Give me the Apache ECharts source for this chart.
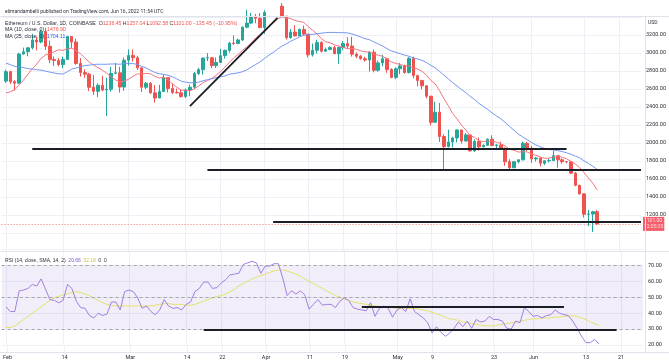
<!DOCTYPE html>
<html><head><meta charset="utf-8">
<script src="https://cdn.jsdelivr.net/npm/echarts@6/dist/echarts.min.js"></script>
<style>html,body{margin:0;padding:0;background:#fff}#c{width:669px;height:363px}</style>
</head><body><div id="c"></div>
<script>
// ETH/USD daily, 2022-02-01 .. 2022-06-16
const firstDay = '2022-02-01';
const opens = [2688,2792,2681,2665,2989,3014,3057,3144,3123,3240,
3074,2927,2916,2871,2928,3183,3122,2884,2782,2765,
2620,2574,2641,2589,2598,2774,2780,2622,2920,2973,
2947,2835,2620,2664,2557,2500,2573,2726,2606,2560,
2558,2516,2590,2620,2772,2815,2944,2947,2861,2895,
2970,3030,3110,3105,3145,3287,3332,3400,3385,3282,
3449,3445,3522,3520,3410,3170,3233,3190,3262,3210,
2980,3030,3118,3020,3040,3060,2992,3060,3105,3077,
2987,2964,2936,2922,3008,2808,2890,2936,2817,2729,
2825,2856,2784,2940,2749,2695,2635,2519,2230,2342,
2072,1960,2011,2056,2145,2022,2090,1912,2018,1958,
1974,2043,1972,1978,1942,1792,1725,1792,1813,1997,
1942,1823,1833,1775,1803,1805,1859,1813,1793,1790,
1665,1530,1435,1208,1210,1236.45];
const closes = [2792,2681,2665,2989,3014,3057,3144,3123,3240,3074,
2927,2916,2871,2928,3183,3122,2884,2782,2765,2620,
2574,2641,2589,2598,2774,2780,2622,2920,2973,2947,
2835,2620,2664,2557,2500,2573,2726,2606,2560,2558,
2516,2590,2620,2772,2815,2944,2947,2861,2895,2970,
3030,3110,3105,3145,3287,3332,3400,3385,3282,3449,
3445,3522,3520,3410,3170,3233,3190,3262,3210,2980,
3030,3118,3020,3040,3060,2992,3060,3105,3077,2987,
2964,2936,2922,3008,2808,2890,2936,2817,2729,2825,
2856,2784,2940,2749,2695,2635,2519,2230,2342,2072,
1960,2011,2056,2145,2022,2090,1912,2018,1958,1974,
2043,1972,1978,1942,1792,1725,1792,1813,1997,1942,
1823,1833,1775,1803,1805,1859,1813,1793,1790,1665,
1530,1435,1208,1210,1236.45,1101];
const lows = [2668,2656,2583,2655,2980,2963,3040,3030,3108,3033,
2886,2856,2852,2830,2927,3055,2869,2737,2725,2577,
2535,2510,2575,2300,2570,2765,2560,2581,2860,2905,
2811,2566,2600,2550,2450,2500,2570,2562,2545,2551,
2503,2500,2520,2600,2755,2760,2911,2831,2834,2891,
2937,3005,3090,3100,3136,3275,3320,3330,3275,3213,
3432,3423,3410,3400,3150,3160,3185,3187,3195,2950,
2960,2993,3005,3013,3030,2988,2880,3030,3047,2960,
2941,2925,2904,2794,2785,2792,2850,2780,2720,2710,
2765,2770,2772,2720,2630,2597,2495,2195,2227,2012,
1700,1952,1950,2006,1995,2015,1905,1901,1915,1950,
1967,1965,1925,1928,1747,1703,1722,1775,1806,1907,
1780,1795,1740,1755,1781,1801,1725,1770,1775,1654,
1519,1424,1172,1076,1010,1092.58];
const highs = [2815,2805,2700,3003,3060,3068,3212,3176,3257,3280,
3137,2963,2947,2960,3190,3183,3160,2944,2818,2780,
2755,2662,2747,2725,2845,2890,2847,2950,3040,3038,
2970,2840,2680,2677,2644,2645,2760,2727,2660,2605,
2590,2605,2650,2790,2835,2950,3000,2951,2950,3045,
3040,3123,3196,3158,3295,3480,3446,3434,3445,3475,
3530,3580,3550,3555,3410,3265,3310,3270,3305,3213,
3105,3145,3130,3060,3076,3080,3071,3133,3175,3180,
3007,2978,2958,3020,3038,2915,2980,2947,2830,2840,
2890,2871,2955,2958,2758,2700,2641,2527,2458,2445,
2098,2147,2070,2150,2145,2110,2095,2040,2060,1985,
2050,2085,1990,2015,1950,1820,1800,1815,2015,2012,
1968,1846,1840,1810,1826,1915,1863,1830,1800,1800,
1679,1535,1440,1258,1247,1257.04];
const ma10 = [2556,2570,2592,2646,2700,2764,2824,2876,2939,2978,
2991,3015,3036,3029,3046,3053,3027,2993,2945,2900,
2865,2837,2809,2776,2735,2701,2675,2688,2709,2742,
2768,2766,2773,2769,2742,2721,2732,2700,2659,2620,
2588,2585,2581,2602,2634,2671,2693,2718,2752,2793,
2844,2896,2945,2982,3029,3068,3114,3166,3205,3253,
3294,3335,3377,3403,3392,3382,3361,3348,3341,3294,
3253,3212,3162,3125,3114,3090,3077,3062,3048,3049,
3042,3024,3014,3011,2986,2976,2963,2935,2900,2884,
2873,2858,2859,2833,2822,2797,2755,2696,2658,2582,
2493,2415,2327,2267,2199,2145,2084,2063,2024,2015,
2023,2019,2011,1991,1968,1931,1919,1899,1903,1900,
1878,1864,1843,1830,1831,1844,1846,1844,1824,1796,
1767,1727,1670,1611,1554,1476.9];
const ma25 = [2887,2871,2851,2847,2838,2826,2822,2814,2810,2799,
2788,2778,2769,2766,2791,2820,2833,2847,2859,2865,
2872,2875,2875,2875,2878,2878,2875,2885,2885,2882,
2873,2852,2834,2807,2784,2770,2762,2751,2737,2712,
2687,2676,2669,2669,2677,2692,2704,2715,2727,2735,
2745,2764,2772,2779,2792,2812,2843,2872,2901,2939,
2974,3006,3042,3076,3101,3130,3154,3179,3197,3203,
3207,3214,3220,3226,3229,3228,3226,3226,3223,3211,
3196,3178,3159,3148,3123,3101,3077,3049,3022,3008,
2993,2977,2964,2945,2934,2918,2894,2863,2835,2795,
2754,2712,2670,2633,2594,2559,2518,2482,2440,2407,
2373,2334,2301,2269,2228,2183,2143,2098,2068,2038,
2005,1978,1959,1938,1927,1923,1915,1905,1891,1876,
1854,1835,1802,1772,1743,1704.11];
const rsi = [44,41,41,54,54.5,55.5,58,57,61.5,55,
48.5,48,46.5,48,58,55.5,47.5,43.5,43,38.5,
37,40,38.5,39.5,47,47,42,53.5,54.5,53.5,
49.5,43,44.5,41,39,42,48.5,44.5,43,43.5,
42,45.5,47,53.5,55.5,59.5,59.5,55.5,56,59,
61,64,64.5,65,70.5,71.5,72.5,71.5,65,69.5,
69.5,71,71,62,51,54,52,54,51.5,42.5,
45.5,48.5,45,45.5,45.5,43.5,47.5,49.5,48,43.5,
42.5,42,41.5,46.5,38,43,44.5,43,37.5,42,
43.5,41,49,41,39,37,34,27.5,31.5,28,
25.5,27.5,30.5,34.5,31.5,35,30.5,36,34.5,35,
38,36,36,35,30.5,30,35,34,43.5,41,
38,38.5,37,38.5,39,42,40,39,38.5,35,
30.5,25.5,21.5,21.5,23.5,20.66];
const rsiSma = [31,31,32,34,36,38,40,42,44,46,
48,49.5,50.5,51.5,52,53,53.5,53,52,51,
49.5,48,46.5,45.5,45,44.5,44.5,44.5,44.5,44.5,
44.5,44.5,44.5,44.5,45,45.5,46,46,45.5,45.5,
45.5,45,45,45.5,46.5,47.5,48.5,49.5,50.5,51,
52,53.5,55,57,58.5,60,61.5,62.5,63.5,64.5,
65.5,66.5,67,67,66.5,65.5,64.5,63,61.5,60,
58.5,57,55.5,54,52.5,51,50,49,48,47,
46.5,46,45.5,45,44.5,44,44,43.5,43.5,43,
43,43,43,43,42.5,42,41.5,40.5,39.5,38.5,
37.5,36.5,36,35.5,34.5,34,33.5,33,32.5,32,
32,32,32.5,33,33.5,34,34.5,35,35.5,36,
36.5,36.5,37,37,37,37.5,37.5,38,38,38.5,
38,37,36,34.5,33.5,32.18];
const tickDates = ['2022-02-01','2022-02-14','2022-03-01','2022-03-14','2022-03-22','2022-04-01','2022-04-11','2022-04-19','2022-05-01','2022-05-09','2022-05-23','2022-06-01','2022-06-13','2022-06-21'];
const tickTexts = ['Feb','14','Mar','14','22','Apr','11','19','May','9','23','Jun','13','21'];
// hand-drawn lines: [startDate, startValue, endDate, endValue]
const priceLines = [
  ['2022-03-15', 2411, '2022-04-04', 3390],
  ['2022-02-07', 1937, '2022-06-09', 1937],
  ['2022-03-19', 1705, '2022-06-26', 1705],
  ['2022-04-03', 1125, '2022-06-26', 1125]
];
const rsiLines = [
  ['2022-03-18', 29.8, '2022-06-20', 29.8],
  ['2022-04-23', 44, '2022-06-08', 44]
];
const rsiLevels = [70, 50, 30];

// categories: one pad day before the data + room on the right
const cats = [];
for (let k = 0; k < 147; k++) cats.push(new Date(Date.UTC(2022, 0, 31) + k * 864e5).toISOString().slice(0, 10));
const off = cats.indexOf(firstDay);
const padArr = a => new Array(off).fill('-').concat(a);
const candle = padArr(opens.map((o, i) => [o, closes[i], lows[i], highs[i]]));
const tickIdx = tickDates.map(d => cats.indexOf(d));
const isTick = i => tickIdx.indexOf(i) >= 0;
const last = closes.length - 1;

const FONT = 'Roboto, "Liberation Sans", sans-serif';
const GL = 1.6, GW = 641.4;
const gridCol = '#eef0f5';
const lineCol = '#1b1e27';

const toPair = (l) => [{coord: [l[0], l[1]]}, {coord: [l[2], l[3]]}];

const chart = echarts.init(document.getElementById('c'), null, {renderer: 'canvas'});
const fmt = v => v.toFixed(2);
chart.setOption({
  animation: false,
  backgroundColor: '#ffffff',
  textStyle: {fontFamily: FONT},
  grid: [
    {left: GL, width: GW, top: 17, height: 234},
    {left: GL, width: GW, top: 249.35, height: 95.7},
    {left: GL, width: GW, top: 345, height: 7}
  ],
  xAxis: [0, 1, 2].map(g => ({
    type: 'category', gridIndex: g, data: cats, boundaryGap: false,
    axisLine: {show: false}, axisTick: {show: false},
    axisLabel: g === 2 ? {
      show: true, interval: (i) => isTick(i), fontSize: 5.5, color: '#2a2e39', margin: 3, fontFamily: FONT,
      formatter: (v, i) => tickTexts[tickIdx.indexOf(i)] || ''
    } : {show: false},
    splitLine: {show: true, interval: (i) => isTick(i), lineStyle: {color: gridCol, width: 1}}
  })),
  yAxis: [
    {type: 'value', gridIndex: 0, position: 'right', min: 800, max: 3400, interval: 200,
     axisLine: {show: false}, axisTick: {show: false},
     axisLabel: {fontSize: 5.5, color: '#2a2e39', margin: 5, fontFamily: FONT,
       formatter: v => (v < 1100 || v > 3300) ? '' : fmt(v)},
     splitLine: {lineStyle: {color: gridCol}}},
    {type: 'value', gridIndex: 1, position: 'right', min: 20, max: 80, interval: 10,
     axisLine: {show: false}, axisTick: {show: false},
     axisLabel: {fontSize: 5.5, color: '#2a2e39', margin: 5, fontFamily: FONT,
       formatter: v => v > 75 ? '' : fmt(v)},
     splitLine: {lineStyle: {color: gridCol}}},
    {type: 'value', gridIndex: 2, show: false}
  ],
  series: [
    {type: 'candlestick', xAxisIndex: 0, yAxisIndex: 0, data: candle, barWidth: 3, clip: true,
     itemStyle: {color: '#26a69a', color0: '#ef5350', borderColor: '#26a69a', borderColor0: '#ef5350', borderWidth: 1},
     markLine: {symbol: ['none', 'none'], silent: true, animation: false,
       data: [
         {yAxis: closes[last], lineStyle: {color: '#ef5350', type: [1, 2], width: 1, opacity: 0.8},
          label: {show: true, position: 'end', distance: 2, backgroundColor: '#f23645', color: '#fff',
            fontSize: 5, lineHeight: 6, padding: [1, 1, 1, 1], fontFamily: FONT,
            formatter: () => fmt(closes[last]) + '\n12:05:35'}}
       ].concat(priceLines.map(l => {
         const p = toPair(l);
         p[0].lineStyle = {color: lineCol, width: 1.8, type: 'solid'};
         p[0].label = {show: false};
         return p;
       }))
     }},
    {type: 'line', name: 'MA10', xAxisIndex: 0, yAxisIndex: 0, data: padArr(ma10), symbol: 'none',
     lineStyle: {color: '#f5737e', width: 1}, z: 3},
    {type: 'line', name: 'MA25', xAxisIndex: 0, yAxisIndex: 0, data: padArr(ma25), symbol: 'none',
     lineStyle: {color: '#7596f3', width: 1}, z: 3},
    {type: 'line', name: 'RSI', xAxisIndex: 1, yAxisIndex: 1, data: padArr(rsi), symbol: 'none',
     lineStyle: {color: '#a27ee0', width: 1}, z: 4,
     markArea: {silent: true, itemStyle: {color: 'rgba(126,87,194,0.1)'},
       data: [[{yAxis: rsiLevels[2]}, {yAxis: rsiLevels[0]}]]},
     markLine: {symbol: ['none', 'none'], silent: true, animation: false,
       data: rsiLevels.map(v => ({yAxis: v, lineStyle: {color: '#a3a6af', type: [3, 3], width: 1}, label: {show: false}}))
         .concat(rsiLines.map(l => {
           const p = toPair(l);
           p[0].lineStyle = {color: lineCol, width: 1.8, type: 'solid'};
           p[0].label = {show: false};
           return p;
         }))}},
    {type: 'line', name: 'RSI SMA', xAxisIndex: 1, yAxisIndex: 1, data: padArr(rsiSma), symbol: 'none',
     lineStyle: {color: '#e3e36c', width: 1}, z: 3}
  ],
  graphic: [
    {type: 'line', shape: {x1: 0, y1: 16.5, x2: 669, y2: 16.5}, style: {stroke: '#e0e3eb', lineWidth: 1}, z: 10},
    {type: 'line', shape: {x1: 0, y1: 251.5, x2: 669, y2: 251.5}, style: {stroke: '#e0e3eb', lineWidth: 1}, z: 10},
    {type: 'line', shape: {x1: 0, y1: 352.5, x2: 669, y2: 352.5}, style: {stroke: '#e0e3eb', lineWidth: 1}, z: 10},
    {type: 'line', shape: {x1: 645.5, y1: 17, x2: 645.5, y2: 352}, style: {stroke: '#e0e3eb', lineWidth: 1}, z: 10},
    {type: 'text', left: 5, top: 9, z: 20, style: {text: 'elimandambelli published on TradingView.com, Jun 16, 2022 11:54 UTC',
      font: '5px ' + FONT, fill: '#2a2e39'}},
    {type: 'text', left: 648, top: 20.5, z: 20, style: {text: 'USD', font: '5px ' + FONT, fill: '#2a2e39'}},
    {type: 'text', left: 5, top: 21.5, z: 20, style: {
      text: '{n|Ethereum / U.S. Dollar, 1D, COINBASE  }{k|O}{v|' + fmt(opens[last]) + '} {k|H}{v|' + fmt(highs[last]) +
        '} {k|L}{v|' + fmt(lows[last]) + '} {k|C}{v|' + fmt(closes[last]) + '} {v|\u2212' + fmt(opens[last] - closes[last]) +
        ' (\u2212' + fmt((opens[last] - closes[last]) / closes[last - 1] * 100) + '%)}',
      font: '5.2px ' + FONT,
      rich: {n: {fill: '#2a2e39', fontSize: 5.2}, k: {fill: '#2a2e39', fontSize: 5.2}, v: {fill: '#ef5350', fontSize: 5.2}}}},
    {type: 'text', left: 5, top: 27.5, z: 20, style: {
      text: '{n|MA (10, close, 0)  }{v|' + fmt(ma10[last]) + '}', font: '5.2px ' + FONT,
      rich: {n: {fill: '#2a2e39', fontSize: 5.2}, v: {fill: '#ef5350', fontSize: 5.2}}}},
    {type: 'text', left: 5, top: 34, z: 20, style: {
      text: '{n|MA (25, close, 0)  }{v|' + fmt(ma25[last]) + '}', font: '5.2px ' + FONT,
      rich: {n: {fill: '#2a2e39', fontSize: 5.2}, v: {fill: '#2962ff', fontSize: 5.2}}}},
    {type: 'text', left: 5, top: 258, z: 20, style: {
      text: '{n|RSI (14, close, SMA, 14, 2)  }{p|' + fmt(rsi[last]) + '}  {y|' + fmt(rsiSma[last]) + '}  {n|0  0}',
      font: '5px ' + FONT,
      rich: {n: {fill: '#2a2e39', fontSize: 5}, p: {fill: '#7e57c2', fontSize: 5}, y: {fill: '#c9c93a', fontSize: 5}}}}
  ]
});
</script></body></html>
